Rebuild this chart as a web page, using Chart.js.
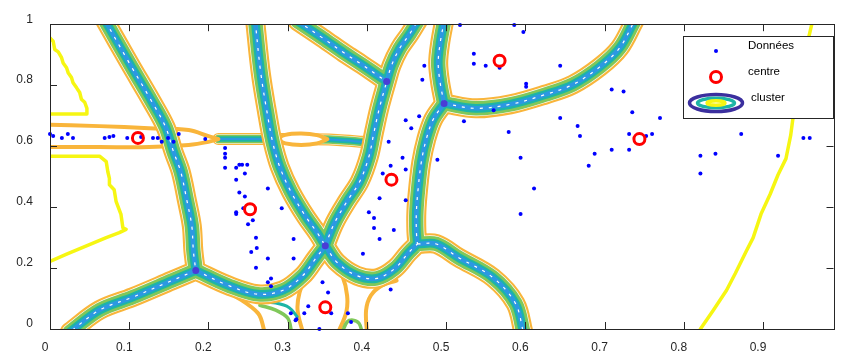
<!DOCTYPE html>
<html>
<head>
<meta charset="utf-8">
<script src="https://cdn.jsdelivr.net/npm/chart.js@4.4.1/dist/chart.umd.min.js"></script>
<style>
  html, body { margin: 0; padding: 0; background: #fff; }
  #wrap { width: 842px; height: 354px; }
</style>
</head>
<body>
<div id="wrap"><canvas id="chart" width="842" height="354"></canvas></div>
<script>
// axes
const xTicks = [0, 0.1, 0.2, 0.3, 0.4, 0.5, 0.6, 0.7, 0.8, 0.9];
const xTickLabels = ["0", "0.1", "0.2", "0.3", "0.4", "0.5", "0.6", "0.7", "0.8", "0.9"];
const yTicks = [0, 0.2, 0.4, 0.6, 0.8, 1];
const yTickLabels = ["0", "0.2", "0.4", "0.6", "0.8", "1"];

// data points (Données)
const dataX = [0, 0.004, 0.015, 0.0225, 0.029, 0.069, 0.075, 0.08, 0.0975, 0.115, 0.13, 0.136, 0.141, 0.149, 0.156, 0.1625, 0.196,
  0.221, 0.221, 0.221, 0.221, 0.235, 0.239, 0.2425, 0.249, 0.246, 0.235, 0.239, 0.246, 0.275, 0.235, 0.235, 0.244, 0.25, 0.256,
  0.2925, 0.26, 0.3075, 0.254, 0.261, 0.275, 0.3075, 0.26, 0.275, 0.279, 0.279, 0.31,
  0.5175, 0.586, 0.5975, 0.535, 0.535, 0.55, 0.5675, 0.644, 0.601, 0.601, 0.56, 0.5225, 0.579, 0.644, 0.594, 0.489,
  0.449, 0.456, 0.466, 0.4725, 0.47, 0.445, 0.449, 0.43, 0.42, 0.4275,
  0.709, 0.724, 0.735, 0.77, 0.666, 0.669, 0.731, 0.7525, 0.76, 0.6875, 0.709, 0.731, 0.68, 0.821, 0.84, 0.821, 0.8725, 0.919, 0.951, 0.959,
  0.416, 0.449, 0.4025, 0.409, 0.409, 0.434, 0.416, 0.395, 0.594, 0.611, 0.43,
  0.344, 0.351, 0.326, 0.321, 0.304, 0.311, 0.355, 0.376, 0.38, 0.34];
const dataY = [0.64, 0.633, 0.627, 0.64, 0.627, 0.627, 0.63, 0.633, 0.627, 0.63, 0.627, 0.627, 0.614, 0.627, 0.614, 0.64, 0.623,
  0.594, 0.575, 0.562, 0.529, 0.529, 0.539, 0.539, 0.539, 0.51, 0.49, 0.448, 0.435, 0.461, 0.383, 0.377, 0.396, 0.344, 0.357,
  0.396, 0.299, 0.295, 0.253, 0.266, 0.231, 0.231, 0.201, 0.153, 0.166, 0.14, 0.029,
  0.997, 0.997, 0.974, 0.903, 0.87, 0.864, 0.857, 0.864, 0.805, 0.795, 0.718, 0.682, 0.646, 0.692, 0.562, 0.555,
  0.685, 0.659, 0.698, 0.864, 0.818, 0.562, 0.523, 0.536, 0.51, 0.614,
  0.786, 0.779, 0.711, 0.692, 0.666, 0.633, 0.64, 0.633, 0.64, 0.575, 0.588, 0.588, 0.536, 0.568, 0.575, 0.51, 0.64, 0.568, 0.627, 0.627,
  0.429, 0.422, 0.383, 0.364, 0.331, 0.325, 0.295, 0.247, 0.377, 0.461, 0.13,
  0.153, 0.12, 0.075, 0.052, 0.052, 0.032, 0.052, 0.052, 0.023, 0];

// cluster centres
const centreX = [0.111, 0.2525, 0.3475, 0.431, 0.5675, 0.744];
const centreY = [0.627, 0.393, 0.071, 0.49, 0.88, 0.623];

// contour boundaries between clusters (centre lines of each band)
const bandB = [[0.070, 1.01], [0.1, 0.873], [0.129, 0.744], [0.146, 0.662], [0.156, 0.581], [0.165, 0.516], [0.173, 0.419], [0.179, 0.338], [0.181, 0.256], [0.184, 0.192]];
const bandC = [[0.184, 0.192], [0.154, 0.159], [0.104, 0.104], [0.0625, 0.062], [0.025, -0.01]];
const bandD = [[0.184, 0.192], [0.225, 0.143], [0.2625, 0.114], [0.294, 0.127], [0.319, 0.175], [0.335, 0.23], [0.3475, 0.273]];
const bandE = [[0.259, 1.01], [0.266, 0.841], [0.274, 0.711], [0.281, 0.614], [0.29, 0.532], [0.304, 0.451], [0.3225, 0.37], [0.3375, 0.315], [0.3475, 0.273]];
const bandF = [[0.3475, 0.273], [0.359, 0.347], [0.375, 0.419], [0.391, 0.484], [0.4025, 0.565], [0.409, 0.646], [0.416, 0.727], [0.425, 0.812]];
const bandG = [[0.3125, 1.01], [0.344, 0.955], [0.371, 0.906], [0.394, 0.867], [0.4125, 0.834], [0.425, 0.812]];
const bandH = [[0.425, 0.812], [0.431, 0.864], [0.441, 0.919], [0.454, 0.968], [0.464, 1.01]];
const bandK = [[0.3475, 0.273], [0.3625, 0.218], [0.3875, 0.175], [0.4125, 0.166], [0.435, 0.198], [0.4525, 0.25], [0.4638, 0.279]];
const bandL = [[0.4975, 0.74], [0.4838, 0.688], [0.475, 0.623], [0.4688, 0.549], [0.465, 0.468], [0.4625, 0.386], [0.4625, 0.321], [0.4638, 0.279]];
const bandM = [[0.4638, 0.279], [0.4875, 0.279], [0.516, 0.234], [0.559, 0.169], [0.5875, 0.084], [0.5975, -0.01]];
const bandN = [[0.4975, 0.74], [0.4925, 0.808], [0.49, 0.873], [0.4925, 0.938], [0.4975, 1.01]];
const bandP = [[0.4975, 0.74], [0.5375, 0.724], [0.581, 0.737], [0.625, 0.769], [0.66, 0.802], [0.694, 0.86], [0.719, 0.922], [0.7375, 1.01]];
const bandA = [[0.2125, 0.623], [0.2625, 0.623], [0.3125, 0.623], [0.3625, 0.62], [0.396, 0.614]];

// single orange / green contour lines
const lensTop = [[-0.01, 0.6705], [0.0625, 0.6656], [0.125, 0.659], [0.175, 0.6526], [0.2, 0.633], [0.2125, 0.623]];
const lensBot = [[-0.01, 0.597], [0.0625, 0.597], [0.125, 0.597], [0.175, 0.604], [0.2, 0.614], [0.2125, 0.623]];
const lensMidTop = [[0.285, 0.623], [0.297, 0.637], [0.317, 0.641], [0.337, 0.636], [0.35, 0.623]];
const lensMidBot = [[0.285, 0.623], [0.297, 0.609], [0.317, 0.604], [0.337, 0.609], [0.35, 0.623]];
const lensMidFill = [[0.293, 0.623], [0.342, 0.623]];
const dLower = [[0.196, 0.182], [0.229, 0.117], [0.2625, 0.052], [0.271, -0.01]];
const tLeft = [[0.34, 0.237], [0.325, 0.185], [0.315, 0.12], [0.3125, 0.062], [0.319, -0.01]];
const tRight = [[0.355, 0.237], [0.369, 0.175], [0.375, 0.11], [0.374, 0.055], [0.364, -0.01]];
const kLower = [[0.4375, 0.159], [0.419, 0.143], [0.405, 0.11], [0.399, 0.062], [0.4, -0.01]];
const greenArch = [[0.369, -0.01], [0.375, 0.023], [0.3825, 0.029], [0.39, 0.019], [0.394, -0.01]];
const greenSpread = [[0.265, 0.078], [0.285, 0.062], [0.3, 0.036], [0.305, -0.01]];
const tealSpread = [[0.262, 0.09], [0.285, 0.085], [0.302, 0.07], [0.312, 0.04]];

// yellow contours
const yellowA = [[0, 0.955], [0.004, 0.944], [0.006, 0.917], [0.0104, 0.909], [0.0146, 0.89], [0.0166, 0.873], [0.0209, 0.857], [0.0229, 0.841],
  [0.0271, 0.825], [0.0291, 0.808], [0.0334, 0.792], [0.0375, 0.776], [0.0396, 0.754], [0.0438, 0.744], [0.0466, 0.724], [0.0466, 0.705], [0, 0.705]];
const yellowB = [[0, 0.567], [0.0625, 0.567], [0.071, 0.549], [0.073, 0.516], [0.075, 0.494], [0.075, 0.473], [0.081, 0.457], [0.0834, 0.419],
  [0.0896, 0.376], [0.092, 0.332], [0.096, 0.327], [0.0875, 0.316], [0.071, 0.3], [0.021, 0.246], [0, 0.222]];
const yellowC = [[0.821, 0], [0.8375, 0.062], [0.854, 0.127], [0.865, 0.182], [0.879, 0.256], [0.8875, 0.299], [0.8975, 0.377], [0.909, 0.442],
  [0.919, 0.506], [0.929, 0.559], [0.935, 0.636], [0.9375, 0.686], [0.9475, 0.808], [0.9525, 0.873], [0.958, 0.96], [0.9625, 1.01]];

// junctions of the bands
const junctionX = [0.3475, 0.425, 0.4975, 0.184];
const junctionY = [0.273, 0.812, 0.74, 0.192];

const ORANGE = "#f9b53b";
const GREEN = "#80c85a";
const TEAL = "#1db5a6";
const BLUE = "#2c98e2";
const PURPLE = "#4a3cd6";
const YELLOW = "#f6f612";

function joinLines(lines) {
  const out = [];
  lines.forEach((l, i) => {
    if (i > 0) out.push({ x: l[0][0], y: null });
    l.forEach(p => out.push({ x: p[0], y: p[1] }));
  });
  return out;
}

function lineSet(lines, color, width, order, extra) {
  return Object.assign({
    data: joinLines(lines),
    showLine: true,
    borderColor: color,
    borderWidth: width,
    pointRadius: 0,
    tension: 0.35,
    borderCapStyle: "round",
    borderJoinStyle: "round",
    spanGaps: false,
    clip: 0,
    order: order
  }, extra || {});
}

const mainBands = [bandB, bandC, bandD, bandE, bandF, bandG, bandH, bandK, bandL, bandM, bandN, bandP];

const datasets = [
  lineSet([yellowA, yellowB, yellowC], YELLOW, 3.5, 40, { tension: 0 }),
  lineSet([bandA], ORANGE, 12, 39),
  lineSet([bandA], "#ffffff", 9.5, 38),
  lineSet([bandA], GREEN, 8.5, 37),
  lineSet([bandA], TEAL, 5.5, 36),
  lineSet([bandA], BLUE, 2, 35),
  lineSet([lensMidFill], "#ffffff", 8, 34),
  lineSet([lensMidTop, lensMidBot, lensTop, lensBot], ORANGE, 4, 33),
  lineSet([dLower, tLeft, tRight, kLower], ORANGE, 4, 32),
  lineSet([greenArch, greenSpread], GREEN, 3.5, 31),
  lineSet([tealSpread], TEAL, 3, 30),
  lineSet(mainBands, ORANGE, 20, 20),
  lineSet(mainBands, "#ffffff", 15.8, 19),
  lineSet(mainBands, GREEN, 14.5, 18),
  lineSet(mainBands, TEAL, 8.8, 17),
  lineSet(mainBands, BLUE, 4.6, 16),
  lineSet(mainBands, "#ffffff", 1.2, 15, { borderDash: [3, 6], borderCapStyle: "butt" }),
  {
    data: junctionX.map((x, i) => ({ x: x, y: junctionY[i] })),
    pointRadius: 3.5,
    pointBackgroundColor: PURPLE,
    pointBorderWidth: 0,
    order: 10
  },
  {
    data: dataX.map((x, i) => ({ x: x, y: dataY[i] })),
    pointRadius: 2,
    pointBackgroundColor: "#0000ff",
    pointBorderWidth: 0,
    clip: 4,
    order: 2
  },
  {
    data: centreX.map((x, i) => ({ x: x, y: centreY[i] })),
    pointRadius: 5.5,
    pointBackgroundColor: "rgba(0,0,0,0)",
    pointBorderColor: "#ff0000",
    pointBorderWidth: 3,
    order: 1
  }
];

// box with inward ticks, as in the original figure
const frame = {
  id: "frame",
  afterDatasetsDraw(chart) {
    const { ctx, chartArea: a, scales } = chart;
    ctx.save();
    ctx.strokeStyle = "#262626";
    ctx.lineWidth = 1;
    ctx.strokeRect(Math.round(a.left) + 0.5, Math.round(a.top) + 0.5, Math.round(a.right - a.left), Math.round(a.bottom - a.top));
    ctx.beginPath();
    xTicks.forEach(v => {
      const px = Math.round(scales.x.getPixelForValue(v)) + 0.5;
      ctx.moveTo(px, a.bottom); ctx.lineTo(px, a.bottom - 7);
      ctx.moveTo(px, a.top); ctx.lineTo(px, a.top + 7);
    });
    yTicks.forEach(v => {
      const py = Math.round(scales.y.getPixelForValue(v)) + 0.5;
      ctx.moveTo(a.left, py); ctx.lineTo(a.left + 7, py);
      ctx.moveTo(a.right, py); ctx.lineTo(a.right - 7, py);
    });
    ctx.stroke();
    ctx.restore();
  }
};

const legendBox = {
  id: "legendBox",
  afterDraw(chart) {
    const ctx = chart.ctx;
    ctx.save();
    ctx.fillStyle = "#ffffff";
    ctx.fillRect(683, 36, 150, 82);
    ctx.strokeStyle = "#262626";
    ctx.lineWidth = 1;
    ctx.strokeRect(683.5, 36.5, 150, 82);

    ctx.fillStyle = "#0000ff";
    ctx.beginPath(); ctx.arc(716, 51, 2, 0, Math.PI * 2); ctx.fill();

    ctx.strokeStyle = "#ff0000";
    ctx.lineWidth = 3;
    ctx.beginPath(); ctx.arc(716, 77, 5.5, 0, Math.PI * 2); ctx.stroke();

    const ell = (rx, ry, color) => {
      ctx.strokeStyle = color;
      ctx.lineWidth = 3.5;
      ctx.beginPath(); ctx.ellipse(716, 103, rx, ry, 0, 0, Math.PI * 2); ctx.stroke();
    };
    ell(26.5, 8.5, "#3b2f9e");
    ell(18.5, 4.8, TEAL);
    ell(9, 2.2, YELLOW);

    ctx.fillStyle = "#000000";
    ctx.font = "11.5px 'Liberation Sans', Arial, sans-serif";
    ctx.textBaseline = "middle";
    ctx.fillText("Données", 748, 46);
    ctx.fillText("centre", 748, 72);
    ctx.fillText("cluster", 751, 98);
    ctx.restore();
  }
};

Chart.defaults.font.family = "'Liberation Sans', Arial, Helvetica, sans-serif";
Chart.defaults.font.size = 12;
Chart.defaults.color = "#262626";

new Chart(document.getElementById("chart"), {
  type: "scatter",
  data: { datasets: datasets },
  options: {
    responsive: false,
    animation: false,
    events: [],
    layout: { padding: { top: 21, right: 1, left: 0, bottom: 0 } },
    plugins: {
      legend: { display: false },
      tooltip: { enabled: false }
    },
    scales: {
      x: {
        type: "linear",
        min: 0,
        max: 0.989,
        grid: { display: false, drawTicks: false },
        border: { display: false },
        afterBuildTicks: s => { s.ticks = xTicks.map(v => ({ value: v })); },
        afterFit: s => { s.height = 25; },
        ticks: {
          padding: 11,
          labelOffset: -5,
          maxRotation: 0,
          autoSkip: false,
          callback: (v, i) => xTickLabels[i]
        }
      },
      y: {
        type: "linear",
        min: 0,
        max: 1,
        grid: { display: false, drawTicks: false },
        border: { display: false },
        afterBuildTicks: s => { s.ticks = yTicks.map(v => ({ value: v })); },
        afterFit: s => { s.width = 50; },
        ticks: {
          padding: 17,
          labelOffset: -5,
          autoSkip: false,
          callback: (v, i) => yTickLabels[i]
        }
      }
    }
  },
  plugins: [frame, legendBox]
});
</script>
</body>
</html>
